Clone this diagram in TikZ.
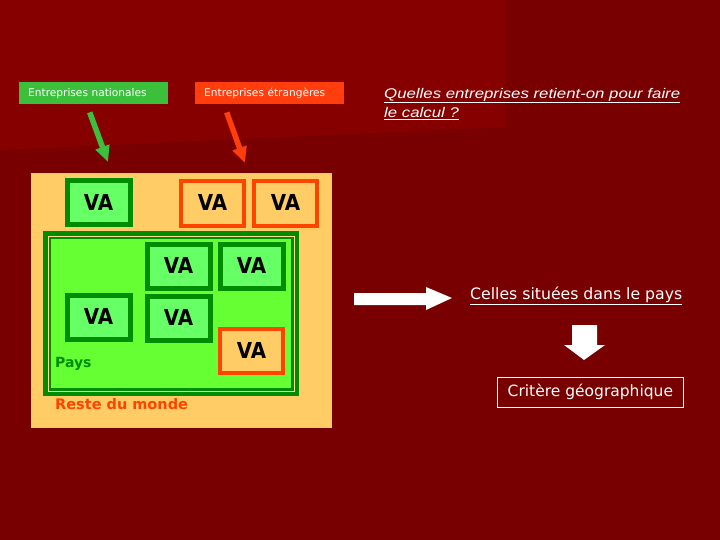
\documentclass[tikz,border=0pt]{standalone}
\usepackage{fontspec}
\setmainfont{DejaVu Sans}
\newfontfamily\qfont{Liberation Sans}
\usetikzlibrary{arrows.meta,positioning}
\definecolor{Wine}{HTML}{790000}
\definecolor{WineLight}{HTML}{860000}
\definecolor{Leaf}{HTML}{3CC03C}
\definecolor{Flame}{HTML}{FF3D0D}
\definecolor{Forest}{HTML}{008C00}
\definecolor{Lime}{HTML}{66FF33}
\definecolor{Mint}{HTML}{66FF66}
\definecolor{Peach}{HTML}{FFCC66}
\definecolor{Rust}{HTML}{FF4400}
\newcommand{\vatxt}{\raisebox{2pt}{\scalebox{0.9}[1]{VA}}}
\tikzset{
  tag/.style={inner sep=0pt,minimum width=149pt,minimum height=22pt,text=white,font=\fontsize{10.6}{12}\selectfont,anchor=north west,text width=145pt},
  grnarr/.style={-{Triangle[width=14pt,length=16pt]},line width=5.5pt,draw=Leaf},
  orgarr/.style={-{Triangle[width=14pt,length=16pt]},line width=5.5pt,draw=Flame},
  vagrn/.style={draw=Forest,line width=5pt,fill=Mint,inner sep=0pt,minimum width=63pt,minimum height=44pt,font=\fontsize{22}{22}\selectfont\bfseries,anchor=north west},
  vaorg/.style={draw=Rust,line width=4pt,fill=Peach,inner sep=0pt,minimum width=63pt,minimum height=45pt,font=\fontsize{22}{22}\selectfont\bfseries,anchor=north west},
  wtext/.style={text=white,inner sep=0pt,font=\fontsize{15.7}{18}\selectfont}
}
\begin{document}
\begin{tikzpicture}[x=1pt,y=-1pt]
  \useasboundingbox (0,0) rectangle (720,540);
  % background
  \fill[Wine] (0,0) rectangle (720,540);
  \fill[WineLight] (0,0) -- (505,0) -- (505,127) -- (0,150) -- cycle;

  % labels on top
  \node[tag,fill=Leaf] (natl) at (19,82) {\hspace*{7pt}Entreprises nationales};
  \node[tag,fill=Flame] (etr) at (195,82) {\hspace*{7pt}Entreprises étrangères};
  \coordinate (natlend) at (108,162);
  \coordinate (etrend) at (245,163);
  \draw[grnarr] ([xshift=-4pt,yshift=-8pt]natl.south) -- (natlend);
  \draw[orgarr] ([xshift=-43pt,yshift=-8pt]etr.south) -- (etrend);

  % question
  \node[wtext,anchor=north west,align=left,font=\qfont\itshape\fontsize{14}{19}\selectfont] (quest) at (384,88)
    {\scalebox{1.2}[1]{\underline{Quelles entreprises retient-on pour faire}}\\\scalebox{1.2}[1]{\underline{le calcul ?}}};

  % rest of the world
  \node[fill=Peach,inner sep=0pt,minimum width=301pt,minimum height=255pt,anchor=north west] (monde) at (31,173) {};
  % country
  \node[draw=Forest,line width=8pt,fill=Lime,inner sep=0pt,minimum width=248pt,minimum height=157pt,anchor=north west] (pays) at (43,231) {};
  \draw[Peach!70!white,line width=1pt] ([shift={(5pt,-5pt)}]pays.north west) rectangle ([shift={(-5pt,5pt)}]pays.south east);

  % value added boxes
  \node[vagrn] (va1) at (64.5,178.5) {\vatxt};
  \node[vaorg] (va2) at (179,179) {\vatxt};
  \node[vaorg] (va3) at (252,179) {\vatxt};
  \node[vagrn] (va4) at (144.5,241.5) {\vatxt};
  \node[vagrn] (va5) at (217.5,241.5) {\vatxt};
  \node[vagrn] (va6) at (64.5,292.5) {\vatxt};
  \node[vagrn] (va7) at (144.5,293.5) {\vatxt};
  \node[vaorg,minimum width=63pt,minimum height=44pt] (va8) at (218,327) {\vatxt};

  \node[inner sep=0pt,anchor=west,text=Forest,font=\fontsize{14}{16}\selectfont\bfseries] (payslbl) at (55,364) {Pays};
  \node[inner sep=0pt,anchor=west,text=Rust,font=\fontsize{14.5}{17}\selectfont\bfseries] (mondelbl) at (55,404) {Reste du monde};

  % conclusion
  \fill[white] (354,293) -- (426,293) -- (426,287) -- (452,298) -- (426,310) -- (426,305) -- (354,305) -- cycle;
  \node[wtext,anchor=west] (celles) at (470,296) {\underline{Celles situées dans le pays}};
  \fill[white] (572,325) -- (597,325) -- (597,345) -- (605,345) -- (584,360) -- (564,345) -- (572,345) -- cycle;
  \node[wtext,draw=white,line width=0.8pt,minimum width=186pt,minimum height=30pt,anchor=north west,font=\fontsize{15.5}{18}\selectfont] (critere) at (497,377) {Critère géographique};
\end{tikzpicture}
\end{document}
